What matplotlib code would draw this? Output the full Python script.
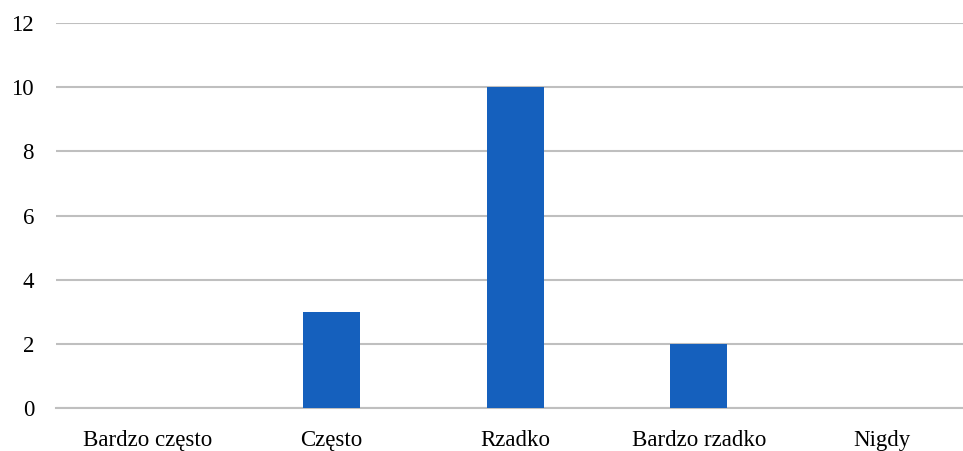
import matplotlib.pyplot as plt

kategorie = ["Bardzo często", "Często", "Rzadko", "Bardzo rzadko", "Nigdy"]
wartosci = [0, 3, 10, 2, 0]
ticki_y = [0, 2, 4, 6, 8, 10, 12]

plt.rcParams["font.family"] = ["Liberation Serif", "DejaVu Serif"]

fig = plt.figure(figsize=(9.63, 4.51), dpi=100)
ax = fig.add_axes([0.0585, 0.0953, 0.953, 0.8537])

ax.bar(range(len(kategorie)), wartosci, width=0.31, color="#1560BD", zorder=3)

ax.set_xlim(-0.5, len(kategorie) - 0.5)
ax.set_ylim(0, 12)
ax.set_yticks(ticki_y)
ax.set_xticks(range(len(kategorie)))
ax.set_xticklabels(kategorie)
ax.grid(axis="y", color="#BFBFBF", linewidth=1.5, zorder=0)
for s in ["top", "right", "left"]:
    ax.spines[s].set_visible(False)
ax.spines["bottom"].set_color("#BFBFBF")
ax.spines["bottom"].set_linewidth(1.5)
ax.tick_params(axis="both", length=0, labelsize=16.5, colors="#000000")
ax.tick_params(axis="y", pad=16)
ax.tick_params(axis="x", pad=16)

fig.savefig("out.png", dpi=100)
